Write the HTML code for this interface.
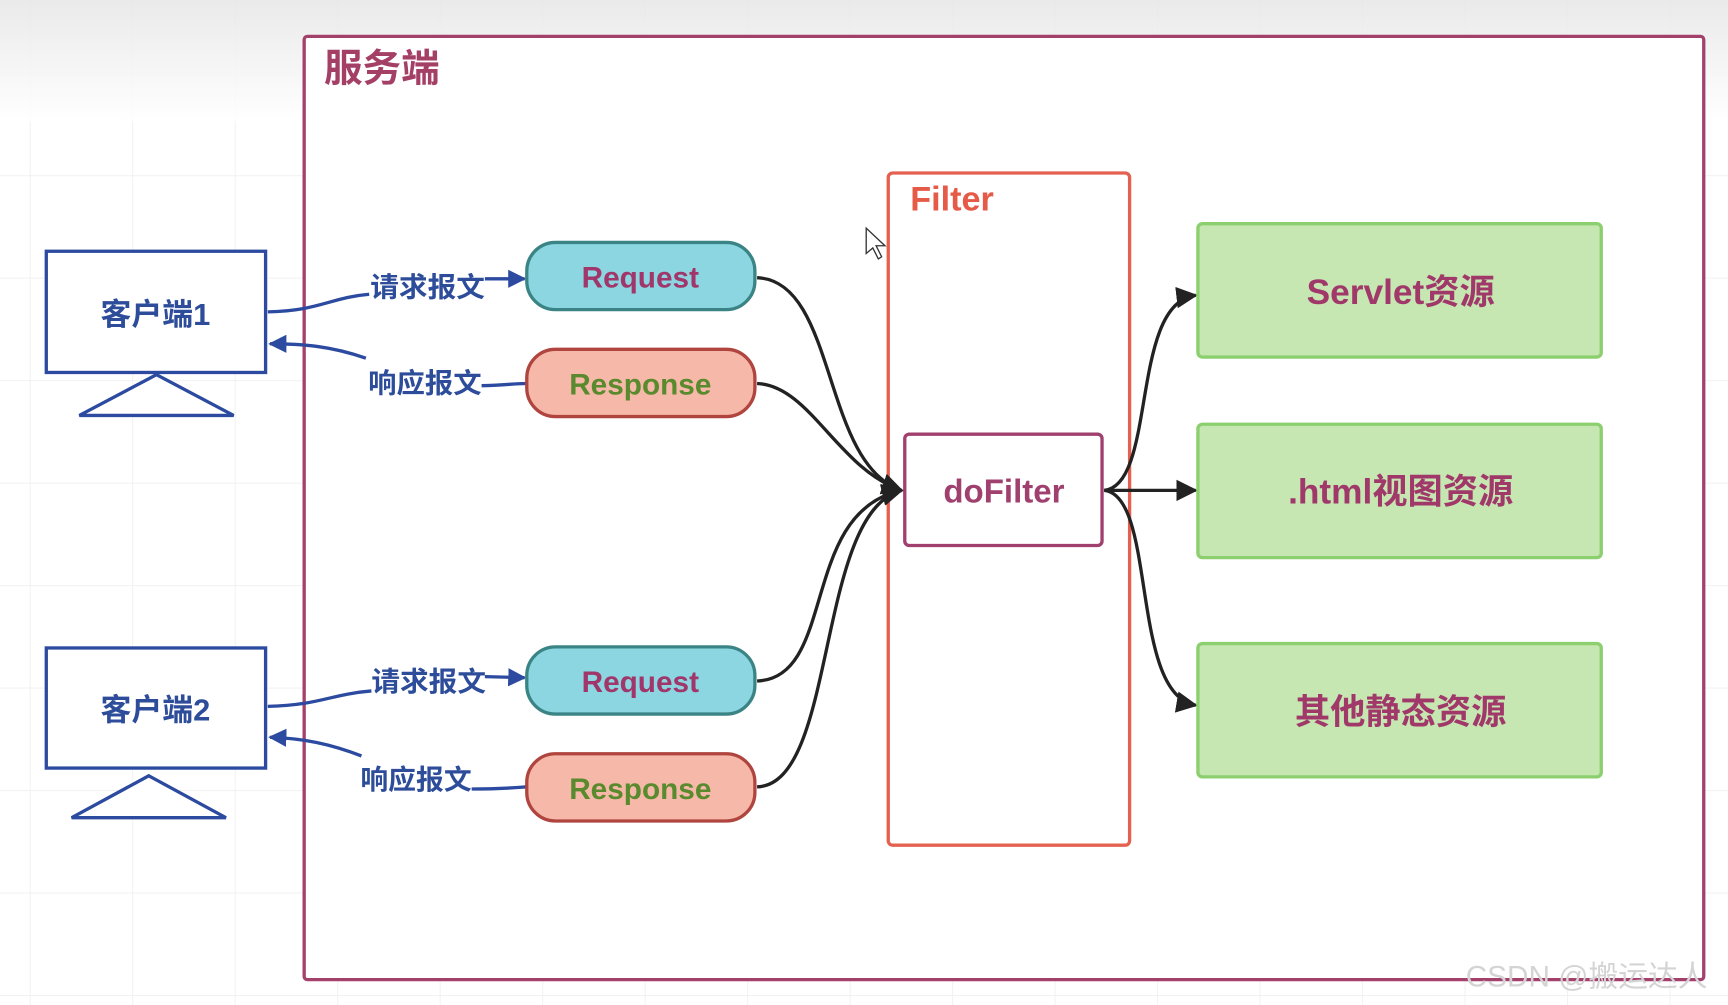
<!DOCTYPE html>
<html><head><meta charset="utf-8"><style>
html,body{margin:0;padding:0;background:#fff;}
svg{display:block;}
text{font-family:"Liberation Sans","Noto Sans CJK SC",sans-serif;font-weight:bold;}
</style></head><body>
<svg width="1728" height="1005" viewBox="0 0 1568 912" preserveAspectRatio="none" xmlns="http://www.w3.org/2000/svg">
<defs>
<linearGradient id="tg" x1="0" y1="0" x2="0" y2="1">
<stop offset="0" stop-color="#e6e6e6"/><stop offset="1" stop-color="#ffffff"/>
</linearGradient>
<pattern id="grid" width="93" height="93" patternUnits="userSpaceOnUse" x="-66" y="-27">
<path d="M93 0H0V93" fill="none" stroke="#efefef" stroke-width="1.5"/>
</pattern>
<marker id="ab" viewBox="0 0 10 10" refX="9" refY="5" markerWidth="5.5" markerHeight="5.5" orient="auto"><path d="M0,0L10,5L0,10z" fill="#2b4aa0"/></marker>
<marker id="ak" viewBox="0 0 10 10" refX="9" refY="5" markerWidth="6.5" markerHeight="6.5" orient="auto"><path d="M0,0L10,5L0,10z" fill="#222"/></marker>
</defs>
<rect width="1568" height="912" fill="#fff"/>
<rect width="1568" height="912" fill="url(#grid)"/>
<rect width="1568" height="110" fill="url(#tg)" opacity="0.85"/>
<rect x="276" y="33" width="1270" height="856" rx="3" fill="#fff" stroke="#a3406c" stroke-width="3"/>
<text x="294" y="74" font-size="35" fill="#a43f66">服务端</text>
<rect x="42" y="228" width="199" height="110" fill="#fff" stroke="#2b4aa0" stroke-width="3"/>
<text x="141" y="295" font-size="28" fill="#2d4d9a" text-anchor="middle">客户端1</text>
<path d="M142,340 L212,377 L72,377 Z" fill="#fff" stroke="#2b4aa0" stroke-width="3"/>
<rect x="42" y="588" width="199" height="109" fill="#fff" stroke="#2b4aa0" stroke-width="3"/>
<text x="141" y="654" font-size="28" fill="#2d4d9a" text-anchor="middle">客户端2</text>
<path d="M135,704 L205,742 L65,742 Z" fill="#fff" stroke="#2b4aa0" stroke-width="3"/>
<g fill="none" stroke="#2b4aa0" stroke-width="3">
<path d="M243,283 C290,282 300,270 335,267"/>
<path d="M440,253 L476,253" marker-end="url(#ab)"/>
<path d="M332,325 C300,314 275,312 245,312" marker-end="url(#ab)"/>
<path d="M437,350 C455,350 465,348 478,348"/>
<path d="M243,641 C290,640 300,630 337,627"/>
<path d="M440,614 L476,615" marker-end="url(#ab)"/>
<path d="M328,686 C300,675 275,670 245,669" marker-end="url(#ab)"/>
<path d="M428,716 C455,716 465,715 478,714"/>
</g>
<g font-size="25" fill="#2d4d9a">
<text x="336" y="269" textLength="104" lengthAdjust="spacingAndGlyphs">请求报文</text>
<text x="334" y="356" textLength="103" lengthAdjust="spacingAndGlyphs">响应报文</text>
<text x="337" y="627" textLength="104" lengthAdjust="spacingAndGlyphs">请求报文</text>
<text x="327" y="716" textLength="101" lengthAdjust="spacingAndGlyphs">响应报文</text>
</g>
<rect x="478" y="220" width="207" height="61" rx="26" fill="#8bd6e0" stroke="#3b8486" stroke-width="3"/>
<text x="581" y="261" font-size="27" fill="#a0366a" text-anchor="middle">Request</text>
<rect x="478" y="317" width="207" height="61" rx="26" fill="#f6b8a8" stroke="#b0443e" stroke-width="3"/>
<text x="581" y="358" font-size="27" fill="#5a8a2e" text-anchor="middle">Response</text>
<rect x="478" y="587" width="207" height="61" rx="26" fill="#8bd6e0" stroke="#3b8486" stroke-width="3"/>
<text x="581" y="628" font-size="27" fill="#a0366a" text-anchor="middle">Request</text>
<rect x="478" y="684" width="207" height="61" rx="26" fill="#f6b8a8" stroke="#b0443e" stroke-width="3"/>
<text x="581" y="725" font-size="27" fill="#5a8a2e" text-anchor="middle">Response</text>
<rect x="806" y="157" width="219" height="610" rx="4" fill="#fff" stroke="#e4604f" stroke-width="3"/>
<text x="826" y="191" font-size="31" fill="#e65a48">Filter</text>
<rect x="821" y="394" width="179" height="101" rx="4" fill="#fff" stroke="#a0406e" stroke-width="3"/>
<text x="911" y="456" font-size="30" fill="#a0406e" text-anchor="middle">doFilter</text>
<g fill="none" stroke="#222" stroke-width="3">
<path d="M687,252 C760,255 745,420 818,445" marker-end="url(#ak)"/>
<path d="M687,348 C735,350 760,425 818,445" marker-end="url(#ak)"/>
<path d="M687,618 C760,615 725,465 818,445" marker-end="url(#ak)"/>
<path d="M687,714 C760,712 740,465 818,445" marker-end="url(#ak)"/>
<path d="M1002,445 C1050,440 1025,275 1085,268" marker-end="url(#ak)"/>
<path d="M1002,445 L1085,445" marker-end="url(#ak)"/>
<path d="M1002,445 C1050,450 1025,630 1085,640" marker-end="url(#ak)"/>
</g>
<g fill="#c6e6b2" stroke="#8ccf6e" stroke-width="3">
<rect x="1087" y="203" width="366" height="121" rx="4"/>
<rect x="1087" y="385" width="366" height="121" rx="4"/>
<rect x="1087" y="584" width="366" height="121" rx="4"/>
</g>
<g font-size="32" fill="#a0386a" text-anchor="middle">
<text x="1271" y="276">Servlet资源</text>
<text x="1271" y="457">.html视图资源</text>
<text x="1271" y="657">其他静态资源</text>
</g>
<path d="M786,207 L786,230 L792,225 L797,235 L800,233 L795,223 L803,223 Z" fill="#fff" stroke="#333" stroke-width="1.2"/>
<text x="1330" y="895" font-size="27" fill="#d4d4d4" style="font-weight:normal">CSDN @搬运达人</text>
</svg>
</body></html>
